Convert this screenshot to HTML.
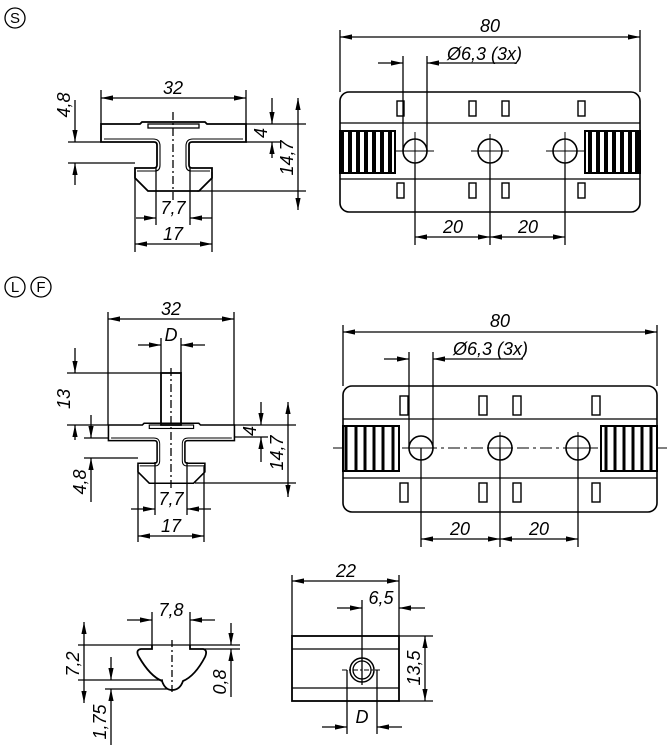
<!DOCTYPE html>
<html><head><meta charset="utf-8"><style>
html,body{margin:0;padding:0;background:#fff}
svg{display:block}
text{font-family:"Liberation Sans",sans-serif;font-style:italic;font-size:18px;fill:#000}
.c{font-style:normal;font-size:15px}
</style></head><body>
<svg width="670" height="750" viewBox="0 0 670 750" xmlns="http://www.w3.org/2000/svg">
<defs>
<marker id="a" viewBox="0 0 12 6" refX="12" refY="3" markerWidth="12" markerHeight="6" markerUnits="userSpaceOnUse" orient="auto-start-reverse"><path d="M0,0.4 L12,3 L0,5.6 Z" fill="#000"/></marker>
<g id="tee">
<path d="M101,124 L140,124 L142,122 L205,122 L207,124 L246,124 L246,142 L192,142 Q189,142 189,145 L189,165 Q189,168 192,168 L212,168 L212,178 L199,191 L148,191 L135,178 L135,168 L154,168 Q157,168 157,165 L157,145 Q157,142 154,142 L101,142 Z" fill="none" stroke="#000" stroke-width="1.8"/>
<path d="M104,139 L153,139 Q160,139 160,146 L160,165 Q160,171 155,171 L137,171 M243,139 L193,139 Q186,139 186,146 L186,165 Q186,171 191,171 L210,171" fill="none" stroke="#000" stroke-width="1.1"/>
<rect x="148" y="124" width="51" height="4" fill="none" stroke="#000" stroke-width="1.3"/>
</g>
</defs>
<g stroke="#000" fill="none" stroke-width="1.3">

<circle cx="15" cy="18" r="10"/>
<circle cx="15" cy="287" r="10"/>
<circle cx="41" cy="287" r="10"/>

<!-- ===== Top-left (S) ===== -->
<use href="#tee"/>
<line x1="173" y1="112" x2="173" y2="200" stroke-dasharray="8,3,2,3"/>
<line x1="101" y1="90" x2="101" y2="124"/><line x1="246" y1="90" x2="246" y2="124"/>
<line x1="101" y1="98" x2="246" y2="98" marker-start="url(#a)" marker-end="url(#a)"/>
<line x1="68" y1="142" x2="101" y2="142"/><line x1="68" y1="163" x2="135" y2="163"/>
<line x1="75" y1="100" x2="75" y2="142" marker-end="url(#a)"/>
<line x1="75" y1="163" x2="75" y2="185" marker-start="url(#a)"/>
<line x1="246" y1="124" x2="306" y2="124"/><line x1="246" y1="142" x2="280" y2="142"/><line x1="197" y1="191" x2="306" y2="191"/>
<line x1="272" y1="98" x2="272" y2="124" marker-end="url(#a)"/>
<line x1="272" y1="142" x2="272" y2="158" marker-start="url(#a)"/>
<line x1="298" y1="98" x2="298" y2="210" marker-start="url(#a)" marker-end="url(#a)"/>
<line x1="156" y1="168" x2="156" y2="225"/><line x1="190" y1="168" x2="190" y2="225"/>
<line x1="135" y1="172" x2="135" y2="252"/><line x1="212" y1="172" x2="212" y2="252"/>
<line x1="136" y1="218" x2="156" y2="218" marker-end="url(#a)"/>
<line x1="190" y1="218" x2="212" y2="218" marker-start="url(#a)"/>
<line x1="135" y1="244" x2="212" y2="244" marker-start="url(#a)" marker-end="url(#a)"/>

<!-- ===== Top-right ===== -->
<rect x="340" y="92" width="300" height="120" rx="9" stroke-width="1.6"/>
<line x1="340" y1="123" x2="640" y2="123"/><line x1="340" y1="179" x2="640" y2="179"/>
<line x1="340" y1="30" x2="340" y2="92"/><line x1="640" y1="30" x2="640" y2="92"/>
<line x1="340" y1="37" x2="640" y2="37" marker-start="url(#a)" marker-end="url(#a)"/>
<line x1="403" y1="56" x2="403" y2="151"/><line x1="427" y1="56" x2="427" y2="151"/>
<line x1="378" y1="63" x2="403" y2="63" marker-end="url(#a)"/>
<line x1="427" y1="63" x2="517" y2="63" marker-start="url(#a)"/>
<circle cx="415" cy="151" r="12" stroke-width="1.6"/><circle cx="490" cy="151" r="12" stroke-width="1.6"/><circle cx="565" cy="151" r="12" stroke-width="1.6"/>
<path d="M396,151 H434 M415,132 V170 M471,151 H509 M490,134 V170 M546,151 H584 M565,132 V170" stroke-width="1"/>
<line x1="415" y1="163" x2="415" y2="245"/><line x1="490" y1="163" x2="490" y2="245"/><line x1="565" y1="163" x2="565" y2="245"/>
<line x1="415" y1="237" x2="490" y2="237" marker-start="url(#a)" marker-end="url(#a)"/>
<line x1="490" y1="237" x2="565" y2="237" marker-start="url(#a)" marker-end="url(#a)"/>
<g stroke-width="1.4">
<rect x="397" y="101" width="7" height="15"/><rect x="469" y="101" width="7" height="15"/><rect x="502" y="101" width="7" height="15"/><rect x="578" y="101" width="7" height="15"/>
<rect x="397" y="183" width="7" height="15"/><rect x="469" y="183" width="7" height="15"/><rect x="502" y="183" width="7" height="15"/><rect x="578" y="183" width="7" height="15"/>
</g>
<rect x="340" y="131" width="55" height="42" stroke-width="2"/>
<rect x="585" y="131" width="55" height="42" stroke-width="2"/>
<path d="M342,131V173 M350,131V173 M358,131V173 M366,131V173 M374,131V173 M382,131V173 M390,131V173 M590,131V173 M598,131V173 M606,131V173 M614,131V173 M622,131V173 M630,131V173 M637,131V173" stroke-width="4"/>

<!-- ===== Middle-left (L)(F) ===== -->
<use href="#tee" transform="translate(171,425) scale(0.869) translate(-173,-124)"/>
<rect x="161" y="373" width="20" height="52" stroke-width="1.8"/>
<line x1="171" y1="368" x2="171" y2="488" stroke-dasharray="8,3,2,3"/>
<line x1="108" y1="312" x2="108" y2="425"/><line x1="234" y1="312" x2="234" y2="425"/>
<line x1="108" y1="319" x2="234" y2="319" marker-start="url(#a)" marker-end="url(#a)"/>
<line x1="161" y1="338" x2="161" y2="373"/><line x1="181" y1="338" x2="181" y2="373"/>
<line x1="138" y1="345" x2="161" y2="345" marker-end="url(#a)"/>
<line x1="181" y1="345" x2="205" y2="345" marker-start="url(#a)"/>
<line x1="67" y1="373" x2="161" y2="373"/><line x1="67" y1="425" x2="108" y2="425"/>
<line x1="75" y1="348" x2="75" y2="373" marker-end="url(#a)"/>
<line x1="75" y1="425" x2="75" y2="440" marker-start="url(#a)"/>
<line x1="84" y1="438" x2="108" y2="438"/><line x1="84" y1="458" x2="138" y2="458"/>
<line x1="91" y1="415" x2="91" y2="438" marker-end="url(#a)"/>
<line x1="91" y1="458" x2="91" y2="502" marker-start="url(#a)"/>
<line x1="234" y1="425" x2="296" y2="425"/><line x1="234" y1="437" x2="268" y2="437"/><line x1="195" y1="483" x2="296" y2="483"/>
<line x1="261" y1="402" x2="261" y2="425" marker-end="url(#a)"/>
<line x1="261" y1="437" x2="261" y2="462" marker-start="url(#a)"/>
<line x1="288" y1="402" x2="288" y2="497" marker-start="url(#a)" marker-end="url(#a)"/>
<line x1="155" y1="462" x2="155" y2="515"/><line x1="187" y1="462" x2="187" y2="515"/>
<line x1="138" y1="465" x2="138" y2="542"/><line x1="204" y1="465" x2="204" y2="542"/>
<line x1="131" y1="509" x2="155" y2="509" marker-end="url(#a)"/>
<line x1="187" y1="509" x2="211" y2="509" marker-start="url(#a)"/>
<line x1="138" y1="536" x2="204" y2="536" marker-start="url(#a)" marker-end="url(#a)"/>

<!-- ===== Middle-right ===== -->
<rect x="343" y="386" width="314" height="126" rx="9" stroke-width="1.6"/>
<line x1="343" y1="419" x2="657" y2="419"/><line x1="343" y1="478" x2="657" y2="478"/>
<line x1="343" y1="325" x2="343" y2="386"/><line x1="657" y1="325" x2="657" y2="386"/>
<line x1="343" y1="332" x2="657" y2="332" marker-start="url(#a)" marker-end="url(#a)"/>
<line x1="409" y1="352" x2="409" y2="448"/><line x1="433" y1="352" x2="433" y2="448"/>
<line x1="384" y1="359" x2="409" y2="359" marker-end="url(#a)"/>
<line x1="433" y1="359" x2="523" y2="359" marker-start="url(#a)"/>
<line x1="333" y1="448" x2="667" y2="448" stroke-dasharray="12,4,3,4" stroke-width="1"/>
<circle cx="421" cy="448" r="12" fill="#fff" stroke-width="1.6"/><circle cx="500" cy="448" r="12" fill="#fff" stroke-width="1.6"/><circle cx="578" cy="448" r="12" fill="#fff" stroke-width="1.6"/>
<path d="M500,432 V448 M578,432 V448 M409,448 H433 M488,448 H512 M566,448 H590" stroke-width="1"/>
<line x1="421" y1="448" x2="421" y2="547"/><line x1="500" y1="448" x2="500" y2="547"/><line x1="578" y1="448" x2="578" y2="547"/>
<line x1="421" y1="539" x2="500" y2="539" marker-start="url(#a)" marker-end="url(#a)"/>
<line x1="500" y1="539" x2="578" y2="539" marker-start="url(#a)" marker-end="url(#a)"/>
<g stroke-width="1.4">
<rect x="400" y="396" width="8" height="19"/><rect x="479" y="396" width="8" height="19"/><rect x="513" y="396" width="8" height="19"/><rect x="592" y="396" width="8" height="19"/>
<rect x="400" y="483" width="8" height="19"/><rect x="479" y="483" width="8" height="19"/><rect x="513" y="483" width="8" height="19"/><rect x="592" y="483" width="8" height="19"/>
</g>
<rect x="343" y="426" width="56" height="45" stroke-width="2" fill="#fff"/>
<rect x="601" y="426" width="56" height="45" stroke-width="2" fill="#fff"/>
<path d="M346,426V471 M356,426V471 M365,426V471 M374,426V471 M383,426V471 M393,426V471 M606,426V471 M615,426V471 M624,426V471 M633,426V471 M642,426V471 M651,426V471" stroke-width="3"/>

<!-- ===== Bottom-left ===== -->
<path d="M152,645 L152,649 L141,649 Q135,650 139,657 Q150,676 162,681 Q165,690 172,690 Q180,690 183,681 Q195,676 205,657 Q208,650 203,649 L190,649 L190,645" stroke-width="1.8"/>
<line x1="172" y1="640" x2="172" y2="695" stroke-dasharray="7,3,2,3"/>
<line x1="78" y1="645" x2="240" y2="645"/><line x1="200" y1="649" x2="240" y2="649"/>
<line x1="78" y1="680" x2="163" y2="680"/><line x1="105" y1="689" x2="168" y2="689"/>
<line x1="152" y1="612" x2="152" y2="645"/><line x1="190" y1="612" x2="190" y2="645"/>
<line x1="127" y1="620" x2="152" y2="620" marker-end="url(#a)"/>
<line x1="190" y1="620" x2="215" y2="620" marker-start="url(#a)"/>
<line x1="84" y1="622" x2="84" y2="703" marker-start="url(#a)" marker-end="url(#a)"/>
<line x1="111" y1="657" x2="111" y2="680" marker-end="url(#a)"/>
<line x1="111" y1="689" x2="111" y2="745" marker-start="url(#a)"/>
<line x1="231" y1="623" x2="231" y2="645" marker-end="url(#a)"/>
<line x1="231" y1="649" x2="231" y2="697" marker-start="url(#a)"/>

<!-- ===== Bottom-right ===== -->
<rect x="292" y="636" width="107" height="65" stroke-width="1.8"/>
<line x1="292" y1="649" x2="399" y2="649"/><line x1="292" y1="688" x2="399" y2="688"/>
<circle cx="362" cy="670" r="12" stroke-width="1.5"/><circle cx="362" cy="670" r="9"/>
<path d="M342,670 H382" stroke-dasharray="5,2,2,2" stroke-width="1"/>
<line x1="292" y1="575" x2="292" y2="636"/><line x1="399" y1="575" x2="399" y2="636"/>
<line x1="292" y1="581" x2="399" y2="581" marker-start="url(#a)" marker-end="url(#a)"/>
<line x1="362" y1="600" x2="362" y2="685"/>
<line x1="337" y1="608" x2="362" y2="608" marker-end="url(#a)"/>
<line x1="399" y1="608" x2="425" y2="608" marker-start="url(#a)"/>
<line x1="399" y1="636" x2="433" y2="636"/><line x1="399" y1="701" x2="433" y2="701"/>
<line x1="425" y1="636" x2="425" y2="701" marker-start="url(#a)" marker-end="url(#a)"/>
<line x1="347" y1="670" x2="347" y2="734"/><line x1="377" y1="670" x2="377" y2="734"/>
<line x1="322" y1="727" x2="347" y2="727" marker-end="url(#a)"/>
<line x1="377" y1="727" x2="402" y2="727" marker-start="url(#a)"/>
</g>

<text class="c" x="15" y="23" text-anchor="middle">S</text>
<text class="c" x="15" y="292" text-anchor="middle">L</text>
<text class="c" x="41" y="292" text-anchor="middle">F</text>

<text x="173" y="94" text-anchor="middle">32</text>
<text transform="translate(70,105) rotate(-90)" text-anchor="middle">4,8</text>
<text transform="translate(267,133) rotate(-90)" text-anchor="middle">4</text>
<text transform="translate(293,158) rotate(-90)" text-anchor="middle">14,7</text>
<text x="173" y="214" text-anchor="middle">7,7</text>
<text x="173" y="240" text-anchor="middle">17</text>

<text x="490" y="32" text-anchor="middle">80</text>
<text x="447" y="60">Ø6,3 (3x)</text>
<text x="453" y="233" text-anchor="middle">20</text>
<text x="528" y="233" text-anchor="middle">20</text>

<text x="171" y="315" text-anchor="middle">32</text>
<text x="171" y="341" text-anchor="middle">D</text>
<text transform="translate(70,399) rotate(-90)" text-anchor="middle">13</text>
<text transform="translate(86,482) rotate(-90)" text-anchor="middle">4,8</text>
<text transform="translate(256,431) rotate(-90)" text-anchor="middle">4</text>
<text transform="translate(283,453) rotate(-90)" text-anchor="middle">14,7</text>
<text x="171" y="505" text-anchor="middle">7,7</text>
<text x="171" y="532" text-anchor="middle">17</text>

<text x="500" y="327" text-anchor="middle">80</text>
<text x="453" y="355">Ø6,3 (3x)</text>
<text x="460" y="535" text-anchor="middle">20</text>
<text x="539" y="535" text-anchor="middle">20</text>

<text x="171" y="616" text-anchor="middle">7,8</text>
<text transform="translate(79,664) rotate(-90)" text-anchor="middle">7,2</text>
<text transform="translate(106,722) rotate(-90)" text-anchor="middle">1,75</text>
<text transform="translate(226,682) rotate(-90)" text-anchor="middle">0,8</text>
<text x="346" y="577" text-anchor="middle">22</text>
<text x="381" y="604" text-anchor="middle">6,5</text>
<text transform="translate(420,668) rotate(-90)" text-anchor="middle">13,5</text>
<text x="362" y="723" text-anchor="middle">D</text>
</svg>
</body></html>
